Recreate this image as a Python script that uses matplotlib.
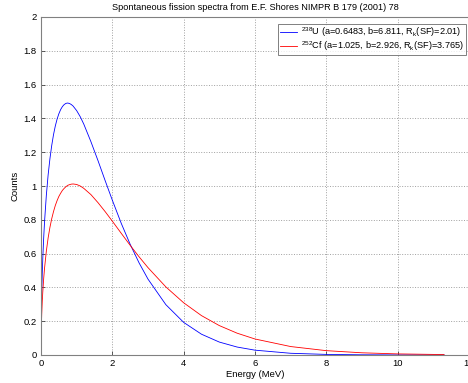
import matplotlib
matplotlib.use("Agg")
import matplotlib.pyplot as plt

plt.rcParams['font.family'] = ['Liberation Sans', 'DejaVu Sans']
plt.rcParams['mathtext.fontset'] = 'custom'
plt.rcParams['mathtext.rm'] = 'Liberation Sans'
plt.rcParams['mathtext.it'] = 'Liberation Sans:italic'

energy = [0.001, 0.01, 0.02, 0.035, 0.05, 0.075, 0.1, 0.15, 0.2, 0.25, 0.3, 0.35, 0.4,
          0.45, 0.5, 0.55, 0.6, 0.65, 0.7, 0.75, 0.8, 0.85, 0.9, 1.0, 1.1, 1.2, 1.4,
          1.6, 1.8, 2.0, 2.25, 2.5, 2.75, 3.0, 3.5, 4.0, 4.5, 5.0, 5.5, 6.0, 7.0,
          8.0, 9.0, 10.0, 11.3]
u238 = [0.082, 0.260, 0.366, 0.481, 0.572, 0.692, 0.791, 0.946, 1.066, 1.161, 1.239,
        1.303, 1.354, 1.395, 1.427, 1.452, 1.470, 1.482, 1.489, 1.491, 1.488, 1.482,
        1.473, 1.446, 1.410, 1.366, 1.262, 1.149, 1.031, 0.916, 0.779, 0.655, 0.545,
        0.449, 0.298, 0.193, 0.123, 0.0765, 0.047, 0.0286, 0.0102, 0.0035, 0.0012,
        0.0004, 0.0001]
cf252 = [0.054, 0.170, 0.240, 0.315, 0.373, 0.452, 0.515, 0.615, 0.693, 0.755, 0.806,
         0.848, 0.884, 0.913, 0.938, 0.957, 0.974, 0.986, 0.996, 1.004, 1.008, 1.011,
         1.012, 1.009, 1.000, 0.986, 0.949, 0.901, 0.848, 0.792, 0.720, 0.649, 0.581,
         0.517, 0.403, 0.309, 0.233, 0.174, 0.129, 0.0947, 0.050, 0.0257, 0.0130,
         0.0065, 0.0026]
labels = [r"$^{238}$U (a=0.6483, b=6.811, R$_{\mathregular{k}}$(SF)=2.01)",
          r"$^{252}$Cf (a=1.025, b=2.926, R$_{\mathregular{k}}$(SF)=3.765)"]
xticks = [0, 2, 4, 6, 8, 10, 12]
yticks = [0, 0.2, 0.4, 0.6, 0.8, 1, 1.2, 1.4, 1.6, 1.8, 2]
ytick_labels = ['0', '0.2', '0.4', '0.6', '0.8', '1', '1.2', '1.4', '1.6', '1.8', '2']

fig = plt.figure(figsize=(4.68, 3.83), dpi=100)
ax = fig.add_axes([41/468, 28/383, 428/468, 338/383])
ax.plot(energy, u238, color='blue', lw=0.6, label=labels[0])
ax.plot(energy, cf252, color='red', lw=0.6, label=labels[1])
ax.set_xlim(0, 12)
ax.set_ylim(0, 2)
ax.set_xticks(xticks)
ax.set_xticklabels([str(t) for t in xticks])
ax.set_yticks(yticks)
ax.set_yticklabels(ytick_labels)
ax.tick_params(direction='in', length=3, width=0.6, labelsize=6.8, colors='#404040',
               labelcolor='black', top=False, right=False, pad=3)
for s in ax.spines.values():
    s.set_color('#808080')
    s.set_linewidth(0.8)
ax.grid(True, linestyle=':', color='#a0a0a0', lw=0.7)
ax.set_xlabel('Energy (MeV)', fontsize=6.8, labelpad=1)
ax.set_ylabel('Counts', fontsize=6.8, labelpad=3)
ax.set_title('Spontaneous fission spectra from E.F. Shores NIMPR B 179 (2001) 78',
             fontsize=6.6, pad=5)
leg = ax.legend(loc='upper right', fontsize=6.6, frameon=True, fancybox=False,
                handlelength=1.8, borderaxespad=0.0, labelspacing=0.05,
                borderpad=0.2, handletextpad=0.5, bbox_to_anchor=(0.993, 0.980))
leg.get_frame().set_edgecolor('#606060')
leg.get_frame().set_linewidth(0.7)
fig.savefig('out.png', dpi=100)
